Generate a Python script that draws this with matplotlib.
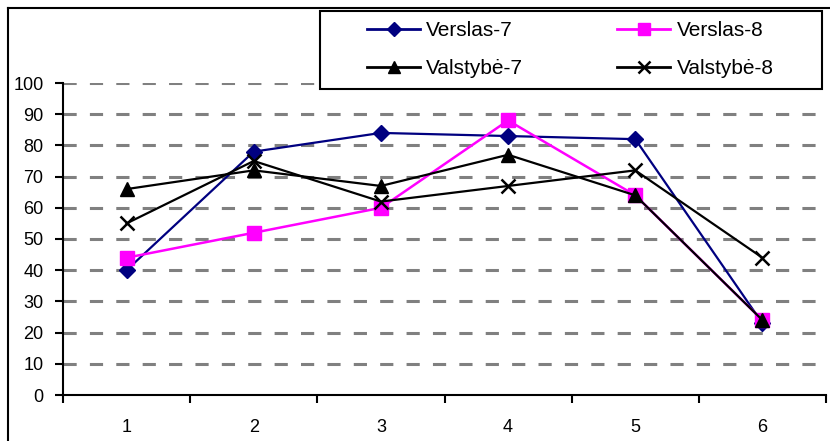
import matplotlib
matplotlib.use("Agg")
import matplotlib.pyplot as plt
from matplotlib.lines import Line2D
from matplotlib.patches import Rectangle

plt.rcParams['font.family'] = ['Liberation Sans', 'DejaVu Sans']
plt.rcParams['lines.scale_dashes'] = False

grupes = [1, 2, 3, 4, 5, 6]
verslas7 = [40, 78, 84, 83, 82, 23]
verslas8 = [44, 52, 60, 88, 64, 24]
valstybe7 = [66, 72, 67, 77, 64, 24]
valstybe8 = [55, 75, 62, 67, 72, 44]

W, H = 830, 441
fig = plt.figure(figsize=(W / 100, H / 100), dpi=100)
ax = fig.add_axes([63 / W, 1 - 395 / H, (826 - 63) / W, (395 - 83) / H])

l1, = ax.plot(grupes, verslas7, color="#000080", lw=1.6, marker="D", ms=8, label="Verslas-7")
l2, = ax.plot(grupes, verslas8, color="#ff00ff", lw=1.8, marker="s", ms=10, label="Verslas-8")
l3, = ax.plot(grupes, valstybe7, color="black", lw=1.6, marker="^", ms=10, label="Valstybė-7")
l4, = ax.plot(grupes, valstybe8, color="black", lw=1.6, marker="x", ms=10, mew=1.8, label="Valstybė-8")

ax.set_xlim(0.5, 6.5)
ax.set_ylim(0, 100)
ax.set_yticks(range(0, 101, 10))
ax.set_xticks(grupes)
ax.set_xticks([x + 0.5 for x in range(0, 7)], minor=True)
ax.tick_params(axis="x", which="major", length=0, pad=17, labelsize=13)
ax.tick_params(axis="x", which="minor", length=6, width=1.5, direction="out")
ax.tick_params(axis="y", length=6, width=1.5, direction="out", pad=8, labelsize=13)

for y in range(10, 101, 10):
    ax.axhline(y, color="#808080", lw=2.2, ls=(0, (9.5, 9.5)), zorder=0)

for s in ["top", "right"]:
    ax.spines[s].set_visible(False)
ax.spines["left"].set_linewidth(1.5)
ax.spines["bottom"].set_linewidth(1.5)

# legenda: eilemis, kaip Excel
fig.add_artist(Rectangle((320 / W, 1 - 89 / H), (822 - 320) / W, 78 / H,
                         transform=fig.transFigure, fill=True, facecolor="white",
                         edgecolor="black", lw=1.5, zorder=3))
leg = fig.legend([l1, l3, l2, l4], ["Verslas-7", "Valstybė-7", "Verslas-8", "Valstybė-8"],
                 loc="center left", ncol=2, bbox_to_anchor=(367 / W, 1 - 49.5 / H),
                 fontsize=15, handlelength=2.55, handletextpad=0.3, columnspacing=4.5,
                 frameon=False, borderaxespad=0, borderpad=0, labelspacing=0.9,
                 markerscale=0.85)
leg.set_zorder(4)
for h in leg.legend_handles:
    h.set_linewidth(2)

# ramelis aplink diagrama
fig.add_artist(Line2D([8 / W, 8 / W], [0, 1 - 8 / H], color="black", lw=1.5))
fig.add_artist(Line2D([8 / W, 1], [1 - 8 / H, 1 - 8 / H], color="black", lw=1.5))

fig.savefig("out.png", dpi=100)
